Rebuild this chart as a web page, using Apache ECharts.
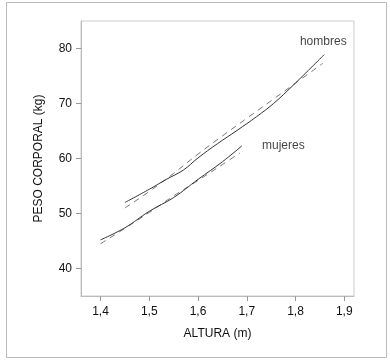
<!DOCTYPE html>
<html><head><meta charset="utf-8">
<script src="https://cdn.jsdelivr.net/npm/echarts@6/dist/echarts.min.js"></script>
<style>html,body{margin:0;padding:0;background:#fff}#c{width:390px;height:361px}</style>
</head><body><div id="c"></div>
<script>
const xTicks = [1.4, 1.5, 1.6, 1.7, 1.8, 1.9];
const yTicks = [40, 50, 60, 70, 80];
const hombresX = [1.45, 1.50, 1.535, 1.57, 1.60, 1.64, 1.68, 1.72, 1.755, 1.795, 1.859];
const hombresY = [52.0, 54.4, 56.2, 57.9, 60.1, 62.7, 65.1, 67.6, 70.0, 73.3, 78.9];
const hombresFitX = [1.45, 1.50, 1.55, 1.60, 1.65, 1.70, 1.75, 1.80, 1.856];
const hombresFitY = [51.0, 54.0, 57.3, 60.8, 64.1, 67.3, 70.5, 73.7, 77.3];
const mujeresX = [1.40, 1.45, 1.50, 1.55, 1.60, 1.65, 1.69];
const mujeresY = [45.2, 47.4, 50.4, 52.9, 56.2, 59.4, 62.3];
const mujeresFitX = [1.40, 1.45, 1.50, 1.55, 1.60, 1.65, 1.686];
const mujeresFitY = [44.5, 47.3, 50.2, 53.2, 56.0, 58.9, 61.0];

const zip = (a, b) => a.map((v, i) => [v, b[i]]);
const font = 'Liberation Sans, Arial, sans-serif';
const chart = echarts.init(document.getElementById('c'));
function line(x, y, dashed) {
  return {
    type: 'line', data: zip(x, y), symbol: 'none', smooth: 0.4,
    lineStyle: dashed ? {color: '#777', width: 1, type: [6, 5]} : {color: '#333', width: 1},
    silent: true, z: dashed ? 2 : 3
  };
}
chart.setOption({
  animation: false,
  backgroundColor: '#fff',
  graphic: [{type: 'rect', shape: {x: 6.5, y: 2.5, width: 380, height: 355}, style: {fill: 'none', stroke: '#bbb', lineWidth: 1}, silent: true}],
  grid: {left: 81, top: 21, right: 36, bottom: 65, show: true, borderColor: '#ccc', borderWidth: 1},
  xAxis: {
    type: 'value', min: 1.36, max: 1.92,
    name: 'ALTURA (m)', nameLocation: 'middle', nameGap: 32,
    nameTextStyle: {color: '#111', fontSize: 12, fontFamily: font},
    splitLine: {show: false},
    axisLine: {show: true, lineStyle: {color: '#bbb'}},
    axisTick: {show: true, length: 5, lineStyle: {color: '#999'}, customValues: xTicks},
    axisLabel: {color: '#111', fontSize: 12, fontFamily: font, margin: 10, customValues: xTicks,
      formatter: v => v.toFixed(1).replace('.', ',')}
  },
  yAxis: {
    type: 'value', min: 35, max: 85,
    name: 'PESO CORPORAL (kg)', nameLocation: 'middle', nameGap: 36,
    nameTextStyle: {color: '#111', fontSize: 12, fontFamily: font},
    splitLine: {show: false},
    axisLine: {show: true, lineStyle: {color: '#bbb'}},
    axisTick: {show: true, length: 5, lineStyle: {color: '#999'}, customValues: yTicks},
    axisLabel: {color: '#111', fontSize: 12, fontFamily: font, margin: 9, customValues: yTicks}
  },
  series: [
    line(hombresFitX, hombresFitY, true),
    line(hombresX, hombresY, false),
    line(mujeresFitX, mujeresFitY, true),
    line(mujeresX, mujeresY, false),
    {type: 'scatter', data: [[1.857, 81.2], [1.775, 62.3]], symbolSize: 0, silent: true,
      label: {show: true, position: 'inside', color: '#111', fontSize: 12, fontFamily: font,
        formatter: p => ['hombres', 'mujeres'][p.dataIndex]}}
  ]
});
</script></body></html>
